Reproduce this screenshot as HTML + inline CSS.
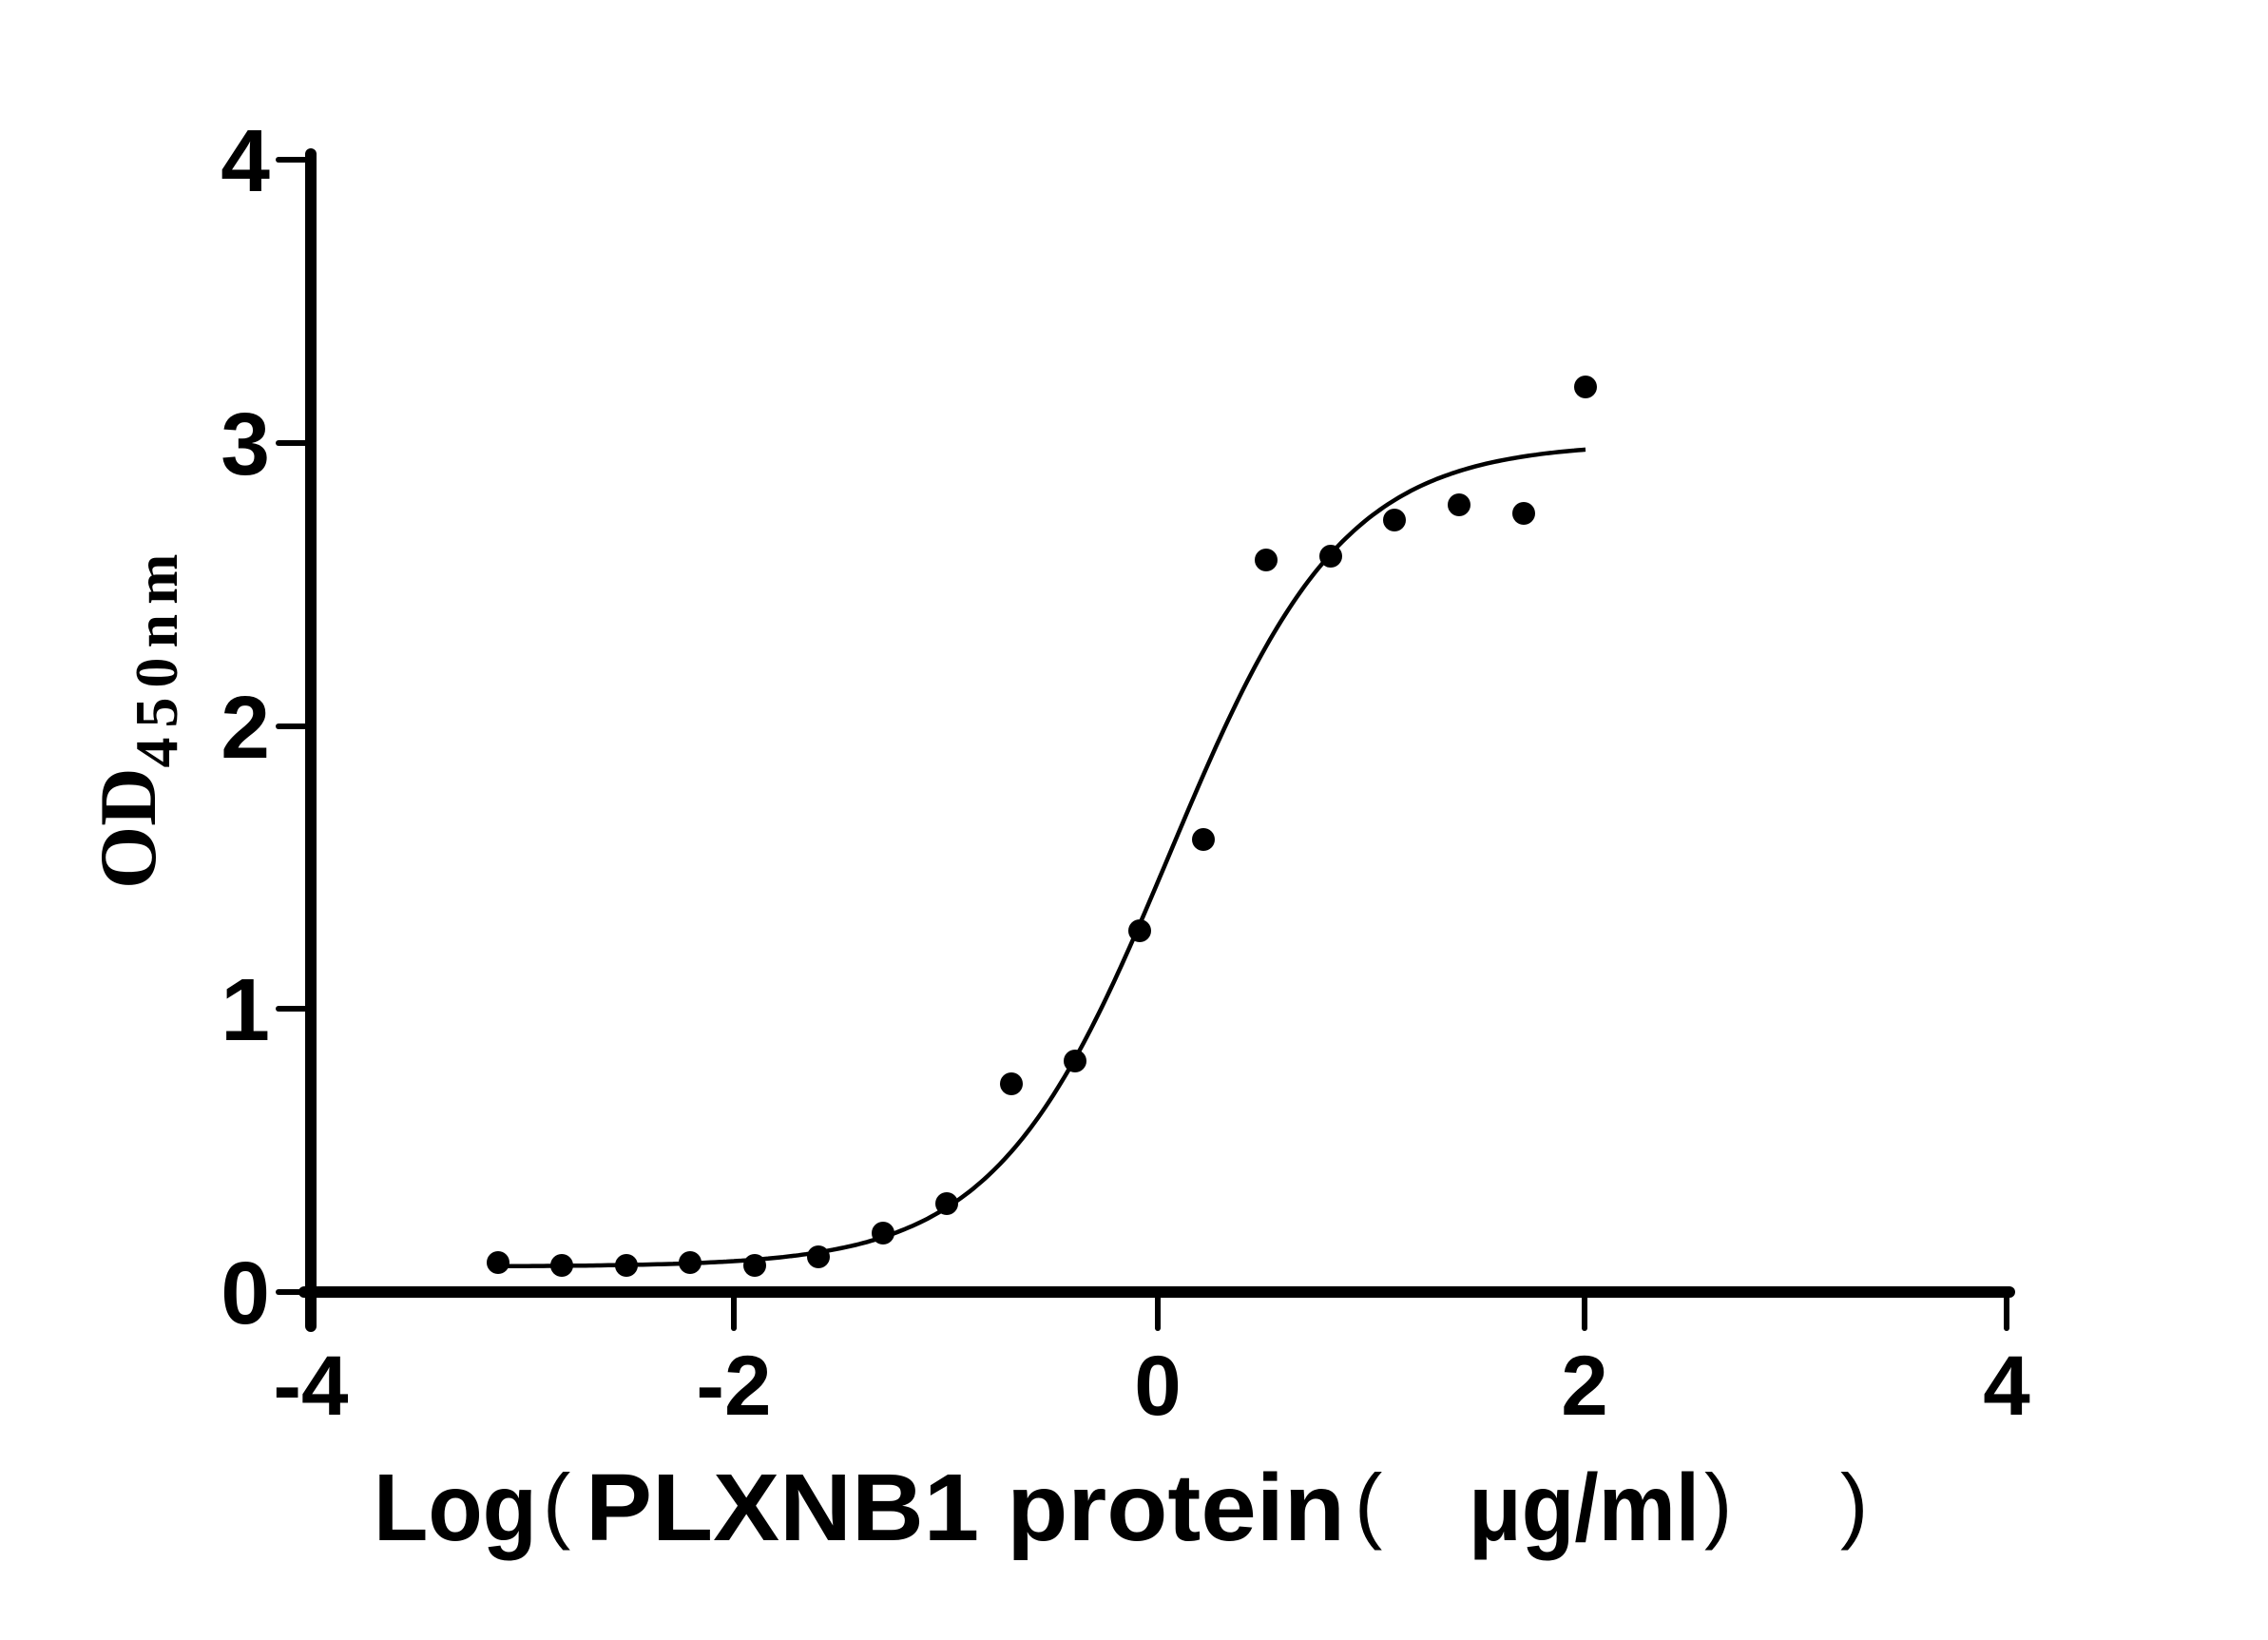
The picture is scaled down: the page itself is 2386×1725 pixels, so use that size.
<!DOCTYPE html>
<html><head><meta charset="utf-8"><style>html,body{margin:0;padding:0;background:#fff}svg{display:block}</style></head>
<body>
<svg id="s" width="2386" height="1725" viewBox="0 0 2386 1725" xmlns="http://www.w3.org/2000/svg">
<rect width="2386" height="1725" fill="#fff"/>
<g stroke="#000" stroke-linecap="round">
<line x1="327" y1="162" x2="327" y2="1395" stroke-width="12"/>
<line x1="320" y1="1359" x2="2114" y2="1359" stroke-width="12"/>
<g stroke-width="6">
<line x1="293" y1="168" x2="327" y2="168"/>
<line x1="293" y1="466" x2="327" y2="466"/>
<line x1="293" y1="764" x2="327" y2="764"/>
<line x1="293" y1="1061" x2="327" y2="1061"/>
<line x1="293" y1="1359" x2="327" y2="1359"/>
<line x1="327" y1="1359" x2="327" y2="1397"/>
<line x1="772" y1="1359" x2="772" y2="1397"/>
<line x1="1218" y1="1359" x2="1218" y2="1397"/>
<line x1="1667" y1="1359" x2="1667" y2="1397"/>
<line x1="2111" y1="1359" x2="2111" y2="1397"/>
</g></g>
<g font-family="Liberation Sans, sans-serif" font-weight="bold" font-size="93" text-anchor="end">
<text x="284" y="201">4</text><text x="284" y="499">3</text><text x="284" y="797">2</text><text x="284" y="1094">1</text><text x="284" y="1392">0</text>
</g>
<g font-family="Liberation Sans, sans-serif" font-weight="bold" font-size="89" text-anchor="middle">
<text x="327" y="1488">-4</text><text x="772" y="1488">-2</text><text x="1218" y="1488">0</text><text x="1667" y="1488">2</text><text x="2111" y="1488">4</text>
</g>
<g font-family="Liberation Sans, sans-serif" font-weight="bold" font-size="100">
<text x="393" y="1620" textLength="172" lengthAdjust="spacingAndGlyphs">Log</text>
<text x="616" y="1620" textLength="799" lengthAdjust="spacingAndGlyphs">PLXNB1 protein</text>
<text x="1545" y="1620" textLength="243" lengthAdjust="spacingAndGlyphs">μg/ml</text>
</g>
<g font-family="Liberation Sans, sans-serif" font-size="88">
<text x="571" y="1612">(</text>
<text x="1425" y="1612">(</text>
<text x="1793" y="1612">)</text>
<text x="1936" y="1612">)</text>
</g>
<text transform="translate(163,935) rotate(-90)" font-family="Liberation Serif, serif" font-weight="bold" font-size="85">OD<tspan font-size="64" dy="23" letter-spacing="10">450nm</tspan></text>
<path id="curve" fill="none" stroke="#000" stroke-width="4.5"/>
<g id="dots" fill="#000"></g>
</svg>
<script>
var pts=[[524,1328],[591,1331],[659,1331],[726,1328],[794,1331],[861,1322],[929,1297],[996,1266],[1064,1140],[1131,1116],[1199,979],[1266,883],[1332,589],[1400,585],[1467,547],[1535,531],[1603,540],[1668,407]];
var g=document.getElementById('dots'),ns='http://www.w3.org/2000/svg';
pts.forEach(function(p){var c=document.createElementNS(ns,'ellipse');c.setAttribute('cx',p[0]);c.setAttribute('cy',p[1]);c.setAttribute('rx',12);c.setAttribute('ry',12);g.appendChild(c);});
var d='';for(var X=524;X<=1670;X+=4){var x=(X-327)/223-4;var v=0.09+2.91/(1+Math.pow(10,(0.05-x)*1.06));var Y=1359-v*297.75;d+=(d?'L':'M')+X+' '+Y.toFixed(1);}
document.getElementById('curve').setAttribute('d',d);
</script>
</body></html>
